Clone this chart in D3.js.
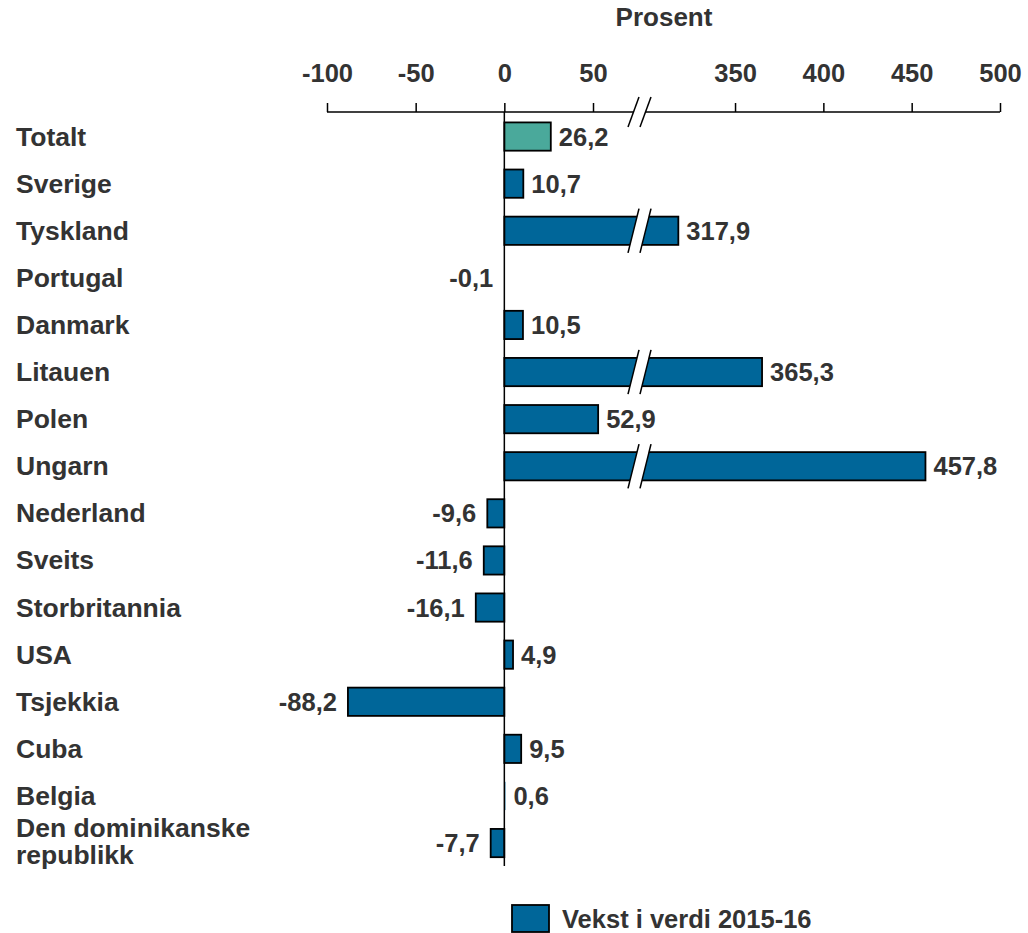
<!DOCTYPE html>
<html><head><meta charset="utf-8">
<script src="https://cdn.jsdelivr.net/npm/d3@7"></script>
<style>body{margin:0;background:#fff}text{font-family:"Liberation Sans",Arial,sans-serif;font-weight:bold;fill:#333}</style>
</head><body><svg id="c" width="1028" height="933"></svg>
<script>
const categories = ["Totalt","Sverige","Tyskland","Portugal","Danmark","Litauen","Polen","Ungarn","Nederland","Sveits","Storbritannia","USA","Tsjekkia","Cuba","Belgia","Den dominikanske republikk"];
const values = [26.2,10.7,317.9,-0.1,10.5,365.3,52.9,457.8,-9.6,-11.6,-16.1,4.9,-88.2,9.5,0.6,-7.7];
const leftTicks = [-100,-50,0,50];
const rightTicks = [350,400,450,500];
const breakLow = 76.5, breakHigh = 296.2;
const seriesName = "Vekst i verdi 2015-16";
const axisTitle = "Prosent";

const svg = d3.select("#c");
const L = 327, R = 1000, BX = 640, axisY = 112;
const xL = d3.scaleLinear().domain([-100, breakLow]).range([L, BX]);
const xR = d3.scaleLinear().domain([breakHigh, 500]).range([BX, R]);
const x = v => v <= breakLow ? xL(v) : xR(v);
const y = d3.scaleBand().domain(categories).range([113, 866.6]).paddingInner(0.4).paddingOuter(0.2);
const loc = d3.formatLocale({decimal:",",thousands:" ",grouping:[3],currency:["",""],minus:"-"});
const fmt = loc.format(".1f");

// axis title
svg.append("text").attr("x",664).attr("y",26).attr("text-anchor","middle").style("font-size","26px").text(axisTitle);

// axes
function styleAxis(g){
  g.select(".domain").remove();
  g.selectAll(".tick line").attr("stroke","#000").attr("stroke-width",1.5);
  g.selectAll(".tick text").style("font-size","25.5px").style("font-family",null).attr("fill","#333");
}
const axL = d3.axisTop(xL).tickValues(leftTicks).tickSize(9).tickPadding(21).tickFormat(loc.format("d"));
const axR = d3.axisTop(xR).tickValues(rightTicks).tickSize(9).tickPadding(21).tickFormat(loc.format("d"));
svg.append("g").attr("transform",`translate(0,${axisY})`).call(axL).call(styleAxis);
svg.append("g").attr("transform",`translate(0,${axisY})`).call(axR).call(styleAxis);
svg.append("line").attr("x1",L).attr("x2",R).attr("y1",axisY).attr("y2",axisY).attr("stroke","#000").attr("stroke-width",1.5);
// axis break
function breakMark(yTop, yBot){
  const g = svg.append("g");
  const p = [[BX-12,yBot],[BX-1,yTop],[BX+11,yTop],[BX,yBot]];
  g.append("path").attr("d",`M${p[0]}L${p[1]}L${p[2]}L${p[3]}Z`).attr("fill","#fff");
  g.append("line").attr("x1",p[0][0]).attr("y1",p[0][1]).attr("x2",p[1][0]).attr("y2",p[1][1]).attr("stroke","#000").attr("stroke-width",1.5);
  g.append("line").attr("x1",p[3][0]).attr("y1",p[3][1]).attr("x2",p[2][0]).attr("y2",p[2][1]).attr("stroke","#000").attr("stroke-width",1.5);
}
breakMark(axisY-15, axisY+15);

// bars
const data = categories.map((c,i)=>({c, v:values[i]}));
svg.selectAll("rect.bar").data(data).enter().append("rect").attr("class","bar")
  .attr("x",d=>Math.min(x(0),x(d.v))).attr("width",d=>Math.abs(x(d.v)-x(0)))
  .attr("y",d=>y(d.c)).attr("height",y.bandwidth())
  .attr("fill",(d,i)=>i===0?"#4aa99b":"#006699")
  .attr("stroke",d=>Math.abs(x(d.v)-x(0))<2?"none":"#000").attr("stroke-width",1.8);
data.filter(d=>d.v>breakLow).forEach(d=>breakMark(y(d.c)-8, y(d.c)+y.bandwidth()+8));

// zero line
svg.append("line").attr("x1",x(0)).attr("x2",x(0)).attr("y1",axisY).attr("y2",866).attr("stroke","#000").attr("stroke-width",1.5);

// value labels
svg.selectAll("text.val").data(data).enter().append("text").attr("class","val")
  .attr("x",d=>d.v>=0?x(d.v)+8:x(d.v)-11)
  .attr("y",d=>y(d.c)+y.bandwidth()/2+9)
  .attr("text-anchor",d=>d.v>=0?"start":"end")
  .style("font-size","25.5px").text(d=>fmt(d.v));

// category labels
const wrap = {"Den dominikanske republikk":["Den dominikanske","republikk"]};
data.forEach(d=>{
  const cy = y(d.c)+y.bandwidth()/2;
  const t = svg.append("text").attr("x",16).style("font-size","26.5px");
  if(wrap[d.c]){
    t.append("tspan").attr("x",16).attr("y",cy-6).text(wrap[d.c][0]);
    t.append("tspan").attr("x",16).attr("y",cy+21).text(wrap[d.c][1]);
  } else t.attr("y",cy+9).text(d.c);
});

// legend
svg.append("rect").attr("x",512).attr("y",905).attr("width",37).attr("height",27).attr("fill","#006699").attr("stroke","#000").attr("stroke-width",1.8);
svg.append("text").attr("x",562).attr("y",928).style("font-size","25.5px").text(seriesName);
</script></body></html>
